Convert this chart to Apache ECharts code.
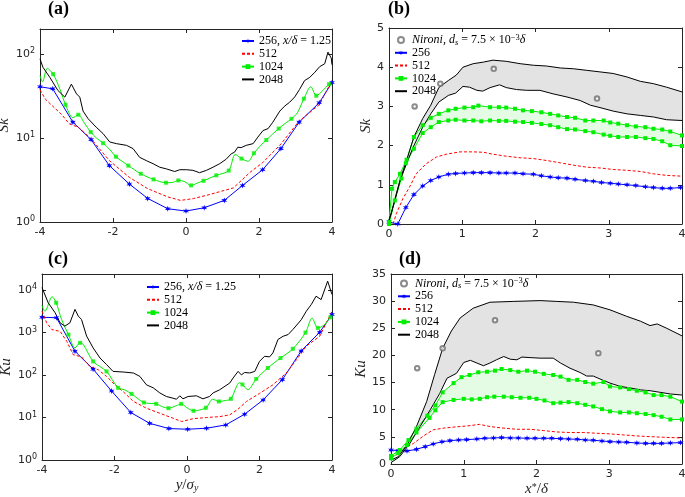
<!DOCTYPE html>
<html><head><meta charset="utf-8">
<script src="https://cdn.jsdelivr.net/npm/echarts@6/dist/echarts.min.js"></script>
<style>html,body{margin:0;padding:0;background:#fff}#c{width:685px;height:497px}</style>
</head><body><div id="c"></div>
<script>
// ---------------- Panel (a): Sk vs y/sigma_y (log) ----------------
const skA_256 = [[-4,41],[-3.65,38.7],[-3.1,15.5],[-2.6,9.6],[-2.1,4.7],[-1.55,2.83],[-1.05,1.91],[-0.5,1.44],[0,1.35],[0.5,1.48],[1.05,1.81],[1.55,2.73],[2.1,4.2],[2.6,7.5],[3.1,15.5],[3.65,26.4],[4,46]];
const skA_512 = [[-4,37.6],[-3.85,29],[-3.65,24],[-3.4,19],[-3.2,14.8],[-2.95,13.5],[-2.6,9.8],[-2.1,5.4],[-1.55,3.4],[-1.05,2.5],[-0.5,1.99],[-0.15,1.81],[0.2,1.9],[0.6,2.1],[1.05,2.38],[1.3,2.55],[1.75,3.9],[2.1,5.1],[2.6,8.5],[3.1,16],[3.65,25],[4,48.6]];
const skA_1024_markers = [[-3.64,58],[-3.30,25],[-2.95,19],[-2.61,11.8],[-2.27,8.7],[-1.92,6.0],[-1.58,4.7],[-1.24,3.76],[-0.89,3.22],[-0.55,2.94],[-0.21,3.13],[0.14,2.73],[0.48,3.1],[0.83,3.6],[1.17,4.1],[1.52,5.7],[1.86,6.6],[2.2,9.5],[2.54,13],[2.89,17],[3.23,29.5],[3.57,32],[3.92,44]];
const skA_1024_between = [[-4,55.7],[-3.93,47],[-3.8,68],[-3.45,38],[-3.1,17.5],[-2.8,15.5],[-2.45,10],[-2.1,7.4],[-1.75,5.3],[-0.38,2.95],[-0.05,3.05],[0.3,2.9],[1.35,6.4],[1.7,5.3],[2.05,8.2],[2.72,15],[3.05,20],[3.42,41],[3.75,37],[4,46]];
const skA_2048 = [[-4,88],[-3.92,70],[-3.73,53],[-3.51,37],[-3.32,30.8],[-3.14,44],[-3.0,33.7],[-2.91,30.8],[-2.82,21],[-2.68,17],[-2.46,13.5],[-2.27,11.3],[-2.09,9],[-1.91,8.6],[-1.63,8.2],[-1.45,7.5],[-1.27,5.9],[-1.09,5.4],[-0.9,4.95],[-0.72,4.5],[-0.54,4.3],[-0.31,4.0],[-0.17,4.2],[0.01,4.2],[0.19,4.13],[0.37,3.87],[0.56,4.13],[0.74,4.5],[0.92,4.95],[1.1,5.6],[1.24,6.5],[1.33,6.8],[1.42,7.8],[1.51,7.7],[1.65,8.2],[1.84,8.6],[1.97,10.3],[2.11,12.3],[2.25,13],[2.38,15.5],[2.57,21],[2.7,24],[2.84,26.8],[2.98,31],[3.11,38],[3.25,48.6],[3.39,53],[3.53,61],[3.66,71],[3.8,77],[3.89,106],[3.98,90],[4,75]];

// ---------------- Panel (b): Sk vs x*/delta ----------------
const skB_nironi = [[0.35,3.0],[0.70,3.58],[1.43,3.96],[2.84,3.2]];
const skB_256 = [[0,0.05],[0.12,0],[0.23,0.42],[0.34,0.75],[0.46,0.97],[0.57,1.11],[0.68,1.2],[0.81,1.27],[0.91,1.29],[1.03,1.3],[1.15,1.31],[1.26,1.31],[1.38,1.31],[1.5,1.3],[1.6,1.3],[1.72,1.3],[1.83,1.28],[1.97,1.27],[2.08,1.23],[2.2,1.2],[2.31,1.18],[2.43,1.17],[2.54,1.14],[2.68,1.11],[2.79,1.09],[2.9,1.06],[3.02,1.04],[3.13,1.02],[3.25,1.0],[3.37,0.98],[3.5,0.95],[3.61,0.93],[3.73,0.91],[3.84,0.91],[3.98,0.93]];
const skB_512 = [[0.055,0],[0.1,0.26],[0.19,0.65],[0.28,0.94],[0.37,1.28],[0.51,1.54],[0.65,1.71],[0.78,1.78],[0.97,1.84],[1.15,1.84],[1.29,1.83],[1.42,1.78],[1.6,1.73],[1.79,1.69],[1.97,1.67],[2.15,1.62],[2.34,1.56],[2.52,1.5],[2.7,1.45],[2.88,1.43],[3.06,1.39],[3.25,1.37],[3.43,1.34],[3.61,1.28],[3.79,1.24],[4,1.22]];
const skB_1024_upper = [[0,0.05],[0.04,0.9],[0.08,1.07],[0.15,1.28],[0.24,1.64],[0.34,2.22],[0.46,2.52],[0.57,2.71],[0.68,2.81],[0.81,2.9],[0.91,2.94],[1.03,2.97],[1.15,2.98],[1.22,3.02],[1.38,2.98],[1.5,2.98],[1.6,2.97],[1.72,2.94],[1.83,2.9],[1.95,2.88],[2.08,2.85],[2.2,2.81],[2.31,2.77],[2.43,2.73],[2.54,2.71],[2.68,2.64],[2.79,2.64],[2.93,2.64],[3.02,2.59],[3.13,2.56],[3.25,2.52],[3.37,2.49],[3.5,2.47],[3.61,2.43],[3.73,2.41],[3.84,2.36],[4,2.26]];
const skB_1024_lower = [[0,0],[0.08,0.6],[0.17,1.16],[0.23,1.55],[0.34,1.92],[0.46,2.32],[0.57,2.47],[0.68,2.6],[0.81,2.64],[0.91,2.66],[1.03,2.64],[1.15,2.64],[1.26,2.62],[1.38,2.64],[1.5,2.63],[1.6,2.63],[1.72,2.61],[1.83,2.6],[1.95,2.58],[2.08,2.55],[2.2,2.52],[2.31,2.47],[2.43,2.42],[2.54,2.41],[2.68,2.37],[2.79,2.34],[2.93,2.28],[3.02,2.25],[3.13,2.22],[3.25,2.22],[3.37,2.22],[3.5,2.19],[3.61,2.17],[3.73,2.11],[3.84,2.01],[4,1.99]];
const skB_2048_upper = [[0,0.1],[0.03,0.26],[0.1,0.77],[0.17,1.24],[0.24,1.62],[0.34,2.22],[0.46,2.69],[0.57,3.03],[0.68,3.48],[0.81,3.66],[0.92,3.8],[1.01,4.0],[1.15,4.09],[1.29,4.13],[1.42,4.18],[1.6,4.15],[1.79,4.09],[1.97,4.05],[2.15,4.03],[2.34,3.98],[2.52,3.96],[2.7,3.92],[2.88,3.88],[3.06,3.84],[3.25,3.75],[3.43,3.64],[3.61,3.58],[3.79,3.49],[4,3.37]];
const skB_2048_lower = [[0,0.09],[0.08,0.6],[0.15,1.11],[0.24,1.54],[0.33,1.96],[0.46,2.47],[0.57,2.81],[0.68,3.11],[0.81,3.28],[0.91,3.34],[1.01,3.51],[1.1,3.49],[1.2,3.41],[1.28,3.39],[1.38,3.48],[1.51,3.55],[1.6,3.48],[1.74,3.43],[1.88,3.41],[2.06,3.41],[2.24,3.32],[2.43,3.24],[2.61,3.15],[2.75,3.03],[2.88,2.97],[3.06,2.88],[3.25,2.81],[3.43,2.77],[3.61,2.73],[3.79,2.66],[4,2.64]];

// ---------------- Panel (c): Ku vs y/sigma_y (log) ----------------
const kuC_256 = [[-4,2300],[-3.6,2240],[-3.09,363],[-2.59,138],[-2.08,42],[-1.55,13.1],[-1.03,7.3],[-0.5,5.5],[0.02,5.3],[0.54,5.6],[1.07,6.7],[1.59,12],[2.1,26],[2.63,78],[3.15,370],[3.66,1020],[4,2660]];
const kuC_512 = [[-4,3200],[-3.87,1700],[-3.73,1180],[-3.5,1070],[-3.32,630],[-3.14,302],[-2.91,268],[-2.68,160],[-2.45,134],[-2.22,93],[-1.99,59],[-1.75,40],[-1.48,24],[-1.12,16.6],[-0.75,12.6],[-0.38,9.6],[-0.15,8.05],[0.17,9.4],[0.54,10],[0.9,10.5],[1.18,11.6],[1.4,15.5],[1.64,23.9],[2.0,37],[2.37,59],[2.74,112],[3.02,230],[3.29,478],[3.66,820],[4,3180]];
const kuC_1024_markers = [[-3.61,5050],[-3.27,900],[-2.95,575],[-2.59,210],[-2.22,122],[-1.9,50],[-1.53,36],[-1.19,22.6],[-0.85,21],[-0.51,16.6],[-0.16,21],[0.18,14.4],[0.52,17],[0.88,23.9],[1.21,27.6],[1.53,60],[1.91,81],[2.23,147],[2.58,252],[2.92,415],[3.27,1000],[3.61,1290],[3.96,2300]];
const kuC_1024_between = [[-4,4370],[-3.92,3200],[-3.72,7000],[-3.46,2040],[-3.09,437],[-2.86,525],[-1.72,45],[-0.68,18],[-0.3,18.9],[0.0,17],[0.71,27],[1.05,25],[1.45,66],[1.68,45],[3.45,2200],[3.78,1500],[4,2400]];
const kuC_2048 = [[-4,11500],[-3.83,5050],[-3.64,2950],[-3.5,1700],[-3.37,1420],[-3.23,1700],[-3.09,3530],[-3.0,2450],[-2.91,2040],[-2.77,830],[-2.59,437],[-2.4,252],[-2.22,177],[-2.04,122],[-1.76,118],[-1.48,112],[-1.3,93],[-1.12,59],[-0.93,50],[-0.75,38],[-0.57,31.3],[-0.39,28.6],[-0.29,27],[-0.2,32.5],[-0.11,27.6],[0.03,31.3],[0.26,32.5],[0.44,27.6],[0.62,31.3],[0.72,38],[0.9,45],[1.18,65],[1.27,85],[1.41,122],[1.5,101],[1.59,115],[1.73,112],[1.87,122],[2.0,210],[2.14,277],[2.28,268],[2.37,333],[2.51,690],[2.65,820],[2.79,900],[2.92,1180],[3.15,2000],[3.29,3180],[3.43,4600],[3.56,7200],[3.7,6000],[3.88,16300],[4,7900]];

// ---------------- Panel (d): Ku vs x*/delta ----------------
const kuD_nironi = [[0.36,17.65],[0.71,21.3],[1.43,26.5],[2.85,20.4]];
const kuD_256 = [[0,2.58],[0.1,2.46],[0.22,2.4],[0.35,2.7],[0.47,3.2],[0.58,3.7],[0.7,4.1],[0.81,4.3],[0.93,4.43],[1.04,4.49],[1.18,4.6],[1.29,4.74],[1.41,4.8],[1.52,4.86],[1.64,4.8],[1.75,4.8],[1.87,4.74],[1.98,4.74],[2.1,4.74],[2.21,4.74],[2.33,4.67],[2.44,4.6],[2.56,4.55],[2.67,4.43],[2.78,4.37],[2.9,4.24],[3.01,4.12],[3.13,4.06],[3.24,4.0],[3.38,3.87],[3.5,3.8],[3.61,3.8],[3.72,3.8],[3.84,3.87],[3.98,3.94]];
const kuD_512 = [[0,1.35],[0.1,1.8],[0.19,3.0],[0.31,3.8],[0.45,5.2],[0.58,6.3],[0.72,6.6],[0.86,6.8],[1.04,7.0],[1.22,7.3],[1.36,6.9],[1.55,6.6],[1.73,6.4],[1.91,6.4],[2.1,6.15],[2.28,5.9],[2.46,5.8],[2.65,5.8],[2.83,5.66],[3.01,5.55],[3.2,5.35],[3.38,5.17],[3.56,5.04],[3.75,4.92],[4,4.8]];
const kuD_1024_upper = [[0,1.5],[0.12,2.58],[0.24,4.4],[0.35,6.5],[0.5,8.9],[0.61,10.8],[0.71,13.2],[0.86,14.9],[0.97,16.0],[1.08,16.4],[1.2,16.9],[1.32,17.0],[1.43,17.2],[1.52,17.5],[1.64,17.3],[1.75,17.0],[1.87,17.2],[1.98,17.0],[2.1,16.6],[2.23,16.4],[2.33,16.1],[2.44,15.5],[2.56,15.5],[2.67,15.1],[2.78,14.8],[2.92,15.1],[3.01,14.3],[3.15,14.1],[3.27,13.8],[3.38,13.5],[3.5,13.2],[3.61,12.7],[3.72,12.7],[3.84,12.4],[4,11.5]];
const kuD_1024_lower = [[0,1.05],[0.1,2.0],[0.22,3.5],[0.35,5.8],[0.53,8.5],[0.61,9.9],[0.71,11.4],[0.86,11.8],[1.0,12.0],[1.11,11.9],[1.22,12.0],[1.32,12.3],[1.42,12.4],[1.55,12.4],[1.66,12.3],[1.78,12.2],[1.9,12.2],[2.0,12.0],[2.11,11.7],[2.23,11.2],[2.33,11.3],[2.44,11.4],[2.56,11.2],[2.67,10.9],[2.78,10.6],[2.9,10.1],[3.01,9.7],[3.15,9.5],[3.27,9.5],[3.38,9.35],[3.5,9.2],[3.61,9.0],[3.72,8.7],[3.84,8.2],[4,8.2]];
const kuD_2048_upper = [[0,0.7],[0.1,1.35],[0.22,3.5],[0.35,6.9],[0.49,11.5],[0.6,16.5],[0.71,21.3],[0.83,24.5],[0.95,26.9],[1.13,28.7],[1.36,29.8],[1.68,29.95],[2.05,30.1],[2.28,29.95],[2.51,29.8],[2.78,29.3],[3.01,28.4],[3.24,27.2],[3.43,26.3],[3.56,25.5],[3.66,25.8],[3.79,25.0],[4,23.6]];
const kuD_2048_lower = [[0,0.25],[0.12,1.35],[0.26,3.8],[0.4,6.9],[0.54,10.0],[0.67,13.0],[0.77,15.8],[0.9,16.7],[1.0,18.7],[1.09,19.1],[1.18,18.6],[1.27,18.1],[1.36,18.6],[1.45,19.2],[1.55,19.8],[1.64,19.3],[1.73,19.2],[1.8,19.7],[1.91,19.6],[2.05,19.5],[2.23,19.5],[2.33,18.6],[2.46,17.65],[2.6,16.85],[2.69,16.2],[2.78,16.2],[2.9,15.5],[3.01,14.9],[3.15,14.3],[3.29,14.0],[3.43,13.65],[3.56,13.5],[3.7,13.2],[3.84,12.9],[4,12.7]];

// ---------------- Axis ticks / labels ----------------
const panelLabels = ['(a)', '(b)', '(c)', '(d)'];
const xTicksSym = { min: -4, max: 4, interval: 2 };
const xTicksPos = { min: 0, max: 4, interval: 1 };
const yRangeA = { min: 1, max: 200 };
const yRangeB = { min: 0, max: 5, interval: 1 };
const yRangeC = { min: 1, max: 24000 };
const yRangeD = { min: 0, max: 35, interval: 5 };

// ---------------- Styling ----------------
const BLUE = '#0000ff', RED = '#ff0000', GREEN = '#00ee00', BLACK = '#000000', GRAY = '#6e6e6e';
const AX = '#262626';
const SANS = 'DejaVu Sans', SERIF = 'Liberation Serif';
const STAR = 'path://M10,0L12,6.54L18.66,5L14,10L18.66,15L12,13.46L10,20L8,13.46L1.34,15L6,10L1.34,5L8,6.54Z';

const grids = [
  { left: 40, top: 29, width: 292, height: 193 },
  { left: 389, top: 28, width: 293, height: 196 },
  { left: 42, top: 274, width: 290, height: 186 },
  { left: 391, top: 274, width: 291, height: 190 }
].map(g => Object.assign({ containLabel: false, outerBoundsMode: 'none' }, g));

function mergeSorted(a, b) { return a.concat(b).sort((p, q) => p[0] - q[0]); }

function logFmt(v) {
  const e = Math.round(Math.log10(v));
  if (Math.abs(Math.pow(10, e) - v) > 1e-6 * v) return '';
  return '10{sup|' + e + '}';
}
const supRich = { sup: { fontFamily: SANS, fontSize: 8, color: AX, verticalAlign: 'top', lineHeight: 8 } };

function baseAxis(gi, extra) {
  return Object.assign({
    gridIndex: gi,
    axisLine: { show: true, onZero: false, lineStyle: { color: AX, width: 1 } },
    axisTick: { show: true, inside: true, length: 4, lineStyle: { color: AX, width: 1 } },
    axisLabel: { show: true, color: AX, fontFamily: SANS, fontSize: 11, margin: 5 },
    splitLine: { show: false },
    minorTick: { show: false }
  }, extra);
}
const nameStyle = {
  fontFamily: SERIF, fontSize: 15, color: AX,
  rich: {
    i: { fontFamily: SERIF, fontStyle: 'italic', fontSize: 15, color: AX },
    n: { fontFamily: SERIF, fontSize: 15, color: AX },
    sub: { fontFamily: SERIF, fontStyle: 'italic', fontSize: 10, color: AX, verticalAlign: 'bottom', lineHeight: 9 },
    sup: { fontFamily: SERIF, fontSize: 10, color: AX, verticalAlign: 'top', lineHeight: 9 }
  }
};

const xAxes = [], yAxes = [];
const xSpecs = [xTicksSym, xTicksPos, xTicksSym, xTicksPos];
const xNames = ['', '', '{i|y}{n|/}{i|σ}{sub|y}', '{i|x}{sup|*}{n|/}{i|δ}'];
const yNames = ['Sk', 'Sk', 'Ku', 'Ku'];
const yGaps = [21, 14, 27, 20];
const ySpecs = [
  Object.assign({ type: 'log', logBase: 10 }, yRangeA),
  Object.assign({ type: 'value' }, yRangeB),
  Object.assign({ type: 'log', logBase: 10 }, yRangeC),
  Object.assign({ type: 'value' }, yRangeD)
];
for (let gi = 0; gi < 4; gi++) {
  xAxes.push(baseAxis(gi, Object.assign({ type: 'value', position: 'bottom',
    name: xNames[gi], nameLocation: 'middle', nameGap: 18, nameTextStyle: nameStyle }, xSpecs[gi])));
  const ya = baseAxis(gi, Object.assign({ position: 'left', name: '{i|' + yNames[gi] + '}', nameLocation: 'middle',
    nameRotate: 90, nameGap: yGaps[gi], nameTextStyle: nameStyle }, ySpecs[gi]));
  if (ySpecs[gi].type === 'log') {
    ya.axisLabel = Object.assign({}, ya.axisLabel, { formatter: logFmt, rich: supRich, lineHeight: 14 });
  }
  yAxes.push(ya);
}
for (let gi = 0; gi < 4; gi++) {
  const xt = baseAxis(gi, Object.assign({ type: 'value', position: 'top' }, xSpecs[gi]));
  xt.axisLabel = { show: false };
  xAxes.push(xt);
  const yt = baseAxis(gi, Object.assign({ position: 'right' }, ySpecs[gi]));
  yt.axisLabel = { show: false };
  yAxes.push(yt);
}

const series = [];
function band(gi, upper, lower, color) {
  series.push({
    type: 'custom', name: 'band' + gi + color, xAxisIndex: gi, yAxisIndex: gi, silent: true, z: 1,
    data: [upper[0]],
    renderItem: (params, api) => {
      if (params.dataIndex !== 0) return null;
      const pts = upper.map(p => api.coord(p)).concat(lower.slice().reverse().map(p => api.coord(p)));
      return { type: 'polygon', shape: { points: pts }, style: { fill: color } };
    }
  });
}
function line(gi, name, data, color, o) {
  o = o || {};
  series.push({
    type: 'line', name: name, xAxisIndex: gi, yAxisIndex: gi, data: data, z: o.z || 3,
    symbol: o.symbol || 'circle', showSymbol: !!o.showSymbol, symbolSize: o.size || 4,
    smooth: o.smooth || false,
    itemStyle: { color: color },
    lineStyle: { color: color, width: o.width || 1, type: o.dash || 'solid' },
    emphasis: { disabled: true }
  });
}
function markers(gi, name, data, color, symbol, size) {
  series.push({
    type: 'scatter', name: name, xAxisIndex: gi, yAxisIndex: gi, data: data, z: 4,
    symbol: symbol, symbolSize: size, itemStyle: { color: color }, emphasis: { disabled: true }
  });
}
function nironi(gi, data) {
  series.push({
    type: 'scatter', name: 'Nironi', xAxisIndex: gi, yAxisIndex: gi, data: data, z: 5,
    symbol: 'emptyCircle', symbolSize: 4.5, itemStyle: { color: GRAY, borderWidth: 1 }, emphasis: { disabled: true }
  });
}

// (a)
line(0, '256', skA_256, BLUE, { symbol: STAR, showSymbol: true, size: 6 });
line(0, '512', skA_512, RED, { dash: [3, 2] });
line(0, '1024', mergeSorted(skA_1024_markers, skA_1024_between), GREEN, { symbol: 'rect', smooth: 0.3 });
markers(0, '1024m', skA_1024_markers, GREEN, 'rect', 4);
line(0, '2048', skA_2048, BLACK);
// (b)
band(1, skB_2048_upper, skB_2048_lower, '#e3e3e3');
band(1, skB_1024_upper, skB_1024_lower, '#e4fbe4');
nironi(1, skB_nironi);
line(1, '256', skB_256, BLUE, { symbol: STAR, showSymbol: true, size: 6 });
line(1, '512', skB_512, RED, { dash: [3, 2] });
line(1, '1024', skB_1024_upper, GREEN, { symbol: 'rect', showSymbol: true, size: 4 });
line(1, '1024', skB_1024_lower, GREEN, { symbol: 'rect', showSymbol: true, size: 4 });
line(1, '2048', skB_2048_upper, BLACK);
line(1, '2048', skB_2048_lower, BLACK);
// (c)
line(2, '256', kuC_256, BLUE, { symbol: STAR, showSymbol: true, size: 6 });
line(2, '512', kuC_512, RED, { dash: [3, 2] });
line(2, '1024', mergeSorted(kuC_1024_markers, kuC_1024_between), GREEN, { symbol: 'rect', smooth: 0.3 });
markers(2, '1024m', kuC_1024_markers, GREEN, 'rect', 4);
line(2, '2048', kuC_2048, BLACK);
// (d)
band(3, kuD_2048_upper, kuD_2048_lower, '#e3e3e3');
band(3, kuD_1024_upper, kuD_1024_lower, '#e4fbe4');
nironi(3, kuD_nironi);
line(3, '256', kuD_256, BLUE, { symbol: STAR, showSymbol: true, size: 6 });
line(3, '512', kuD_512, RED, { dash: [3, 2] });
line(3, '1024', kuD_1024_upper, GREEN, { symbol: 'rect', showSymbol: true, size: 4 });
line(3, '1024', kuD_1024_lower, GREEN, { symbol: 'rect', showSymbol: true, size: 4 });
line(3, '2048', kuD_2048_upper, BLACK);
line(3, '2048', kuD_2048_lower, BLACK);

const legText = {
  fontFamily: SERIF, fontSize: 12, color: '#000', lineHeight: 14,
  rich: {
    i: { fontFamily: SERIF, fontStyle: 'italic', fontSize: 12, color: '#000' },
    sub: { fontFamily: SERIF, fontStyle: 'italic', fontSize: 8.5, color: '#000', verticalAlign: 'bottom', lineHeight: 8 },
    sup: { fontFamily: SERIF, fontSize: 8.5, color: '#000', verticalAlign: 'top', lineHeight: 8 }
  }
};
const hide = { color: 'rgba(0,0,0,0)', borderColor: 'rgba(0,0,0,0)' };
function legendData(withNironi) {
  const d = [{ name: '256' }, { name: '512', itemStyle: hide }, { name: '1024' }, { name: '2048', itemStyle: hide }];
  return withNironi ? [{ name: 'Nironi' }].concat(d) : d;
}
function legendFmt(n) {
  if (n === 'Nironi') return '{i|Nironi, d}{sub|s} = 7.5 × 10{sup|−3}{i|δ}';
  return n;
}
const legends = [
  { left: 241, top: 34, data: legendData(false), formatter: n => n === '256' ? '256, {i|x/δ} = 1.25' : n },
  { left: 394, top: 33, data: legendData(true), formatter: legendFmt },
  { left: 146, top: 280, data: legendData(false), formatter: n => n === '256' ? '256, {i|x/δ} = 1.25' : n },
  { left: 397, top: 276.5, data: legendData(true), formatter: legendFmt }
].map(l => Object.assign({ orient: 'vertical', padding: 0, itemWidth: 12, itemHeight: 6, itemGap: -1.2,
  textStyle: legText, selectedMode: false }, l));

const titles = [
  { text: panelLabels[0], left: 48, top: 0 },
  { text: panelLabels[1], left: 388, top: 0 },
  { text: panelLabels[2], left: 48, top: 250 },
  { text: panelLabels[3], left: 399, top: 250 }
].map(t => Object.assign({ padding: 0, textStyle: { fontFamily: SERIF, fontWeight: 'bold', fontSize: 18, color: '#000' } }, t));

const chart = echarts.init(document.getElementById('c'), null, { renderer: 'canvas' });
chart.setOption({
  animation: false,
  backgroundColor: '#fff',
  title: titles,
  legend: legends,
  grid: grids,
  xAxis: xAxes,
  yAxis: yAxes,
  series: series
});
</script></body></html>
